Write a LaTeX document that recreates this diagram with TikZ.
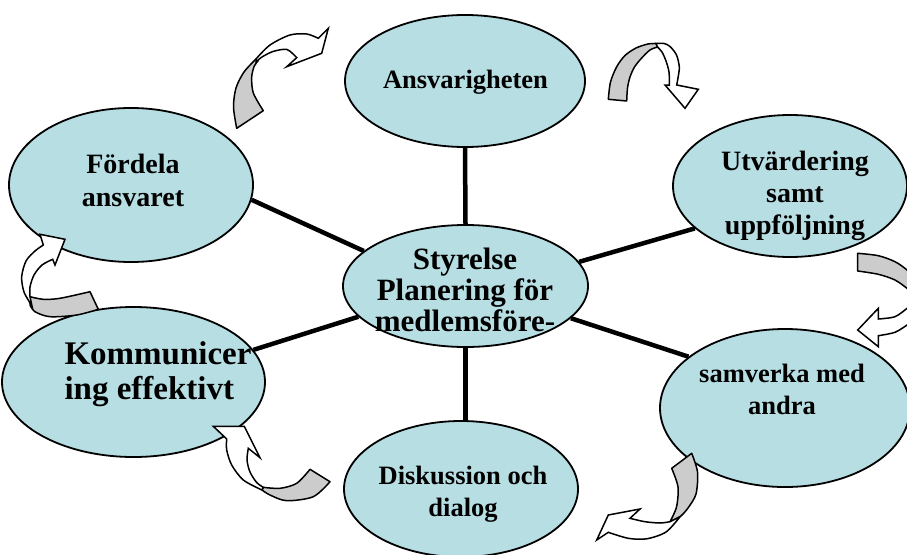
\documentclass[tikz,border=0pt]{standalone}
\usepackage{fontspec}
\setmainfont{Liberation Serif}
\usetikzlibrary{shapes.geometric}
\definecolor{ellfill}{RGB}{183,222,227}
\definecolor{bandgrey}{RGB}{204,204,204}
\tikzset{
  ell/.style={ellipse, draw=black, line width=1.8pt, fill=ellfill, inner sep=0pt},
  lbl/.style={font=\bfseries\fontsize{26.5}{32}\selectfont, align=center, inner sep=0pt},
  spoke/.style={line width=4.5pt},
  tail/.style={fill=bandgrey, draw=black, line width=1.5pt, line join=round},
  head/.style={fill=white, draw=black, line width=1.5pt, line join=miter},
}
\begin{document}
\begin{tikzpicture}[x=1pt,y=-1pt]
\useasboundingbox (0,0) rectangle (907,554);
\clip (0,0) rectangle (907,554);
% ellipses
\node[ell, minimum width=240, minimum height=132] (A) at (465,81) {};
\node[ell, minimum width=244, minimum height=154] (F) at (131,185) {};
\node[ell, minimum width=234, minimum height=142] (U) at (790,186) {};
\node[ell, minimum width=245, minimum height=122] (C) at (465.5,286) {};
\node[ell, minimum width=263, minimum height=150] (K) at (133.5,382) {};
\node[ell, minimum width=250, minimum height=158] (S) at (785,408) {};
\node[ell, minimum width=234, minimum height=136] (D) at (461,489) {};
% spokes
\draw[spoke] (C.north) -- (A.south);
\draw[spoke] (F.-7) -- (C.161);
\draw[spoke] (C.12.3) -- (U.204.3);
\draw[spoke] (K.15.6) -- (C.196.7);
\draw[spoke] (C.-17.8) -- (S.152.2);
\draw[spoke] (C.south) -- (C.south |- D.north);
% labels
\node[lbl] (tA) at (465.5,82) {Ansvarigheten};
\node[lbl, font=\bfseries\fontsize{28}{33}\selectfont] (tF) at (133,180) {Fördela\\ansvaret};
\node[lbl, font=\bfseries\fontsize{28}{32}\selectfont] (tU) at (795,196) {Utvärdering\\samt\\uppföljning};
\node[lbl, font=\bfseries\fontsize{31}{31}\selectfont] (tC) at (465,290) {Styrelse\\Planering för\\medlemsföre-};
\node[lbl, align=left, font=\bfseries\fontsize{33}{35}\selectfont] (tK) at (158,374.5) {Kommunicer\\ing effektivt};
\node[lbl] (tS) at (782,389) {samverka med\\andra};
\node[lbl] (tD) at (463,494) {Diskussion och\\dialog};
% curved arrow 1 (top left)
\filldraw[tail] plot[smooth] coordinates {(236.7,128.3) (233.5,107) (236,88) (244,72) (256,59)} -- plot[smooth] coordinates {(258,61) (254.3,66) (251.7,77) (253.3,93) (263.3,110.7)} -- cycle;
\filldraw[head] plot[smooth] coordinates {(256,59) (270,45) (290,35) (306.7,34) (318.3,38.3)} -- (328.3,28.3) -- (321.7,53.3) -- (286.7,66.7) -- plot[smooth] coordinates {(296.7,57.7) (287,49.5) (273,51.5) (262,57) (256,62)} -- cycle;
% curved arrow 2 (top right)
\filldraw[tail] plot[smooth] coordinates {(608.3,99.3) (610.5,82) (616.7,66.7) (625,55.5) (636,48) (648,44) (656,43.5)} -- plot[smooth] coordinates {(657.5,47) (650,50) (641.7,58) (634.5,67) (630,77) (627.5,88) (626.7,101)} -- cycle;
\filldraw[head] plot[smooth] coordinates {(656,43.5) (664,43.5) (670,46.5) (676.5,55) (679.3,67) (678,78) (676.7,85)} -- (698.3,89.3) -- (685,108.3) -- (665,85) -- plot[smooth] coordinates {(669.3,85) (669,72) (666,61) (662,52) (657.5,47)} -- cycle;
% curved arrow 3 (right edge)
\filldraw[tail] plot[smooth] coordinates {(857.7,253.3) (878.3,255.7) (895,261.7) (907,270) (918,281)} -- (913,297) -- plot[smooth] coordinates {(907,288.3) (895,280) (878.3,274.3) (857.7,271)} -- cycle;
\filldraw[head] (916,302) -- plot[smooth] coordinates {(907,308.3) (895,316.7) (878.3,319)} -- (878.3,308.3) -- (857.7,330) -- (878.3,346.7) -- plot[smooth] coordinates {(878.3,335.7) (895,332.3) (907,325)} -- (916,318) -- cycle;
% curved arrow 4 (bottom right)
\filldraw[tail] (671.7,468.3) -- plot[smooth] coordinates {(691.7,453.3) (697.5,472) (696,494) (688,508) (680,516.7) (670,521.7)} -- plot[smooth] coordinates {(670,521.7) (676.5,507) (678,487) (671.7,468.3)} -- cycle;
\filldraw[head] plot[smooth] coordinates {(680,516.7) (666,532) (646.7,538.8) (628.3,538.3) (608.3,532.3)} -- (596.7,540) -- (608.3,515) -- (640,509) -- plot[smooth] coordinates {(630,518.3) (645,521.7) (660,523) (670,521.7)} -- cycle;
% curved arrow 5 (bottom left)
\filldraw[tail] (310,469.3) -- plot[smooth] coordinates {(330,481.7) (313.3,496.7) (286.7,500.7) (270,495) (262,490)} -- plot[smooth] coordinates {(263.3,487.3) (280,488.3) (296.7,483.3) (310,469.3)} -- cycle;
\filldraw[head] plot[smooth] coordinates {(262,490) (243.3,480) (231.7,465) (226.7,450) (226.7,439)} -- (213.3,426.3) -- (244.3,426.3) -- (260,457.7) -- plot[smooth] coordinates {(248.3,448.3) (247,460) (250,472) (256.7,482.5) (263.3,487.3)} -- cycle;
% curved arrow 6 (left)
\filldraw[tail] (90,291.7) -- plot[smooth] coordinates {(98.3,309.3) (76.7,315) (50,316.7) (35,311.7) (30,305)} -- plot[smooth] coordinates {(30,296.7) (43.3,299.3) (60,298.3) (90,291.7)} -- cycle;
\filldraw[head] plot[smooth] coordinates {(32,306) (24,292) (21.7,276.7) (26,261) (35,251) (43.3,245)} -- (40,234.3) -- (65,239.3) -- (55,265) -- plot[smooth] coordinates {(52.7,259.3) (42,265) (34,275) (30,287) (30,296.7)} -- cycle;
\end{tikzpicture}
\end{document}
